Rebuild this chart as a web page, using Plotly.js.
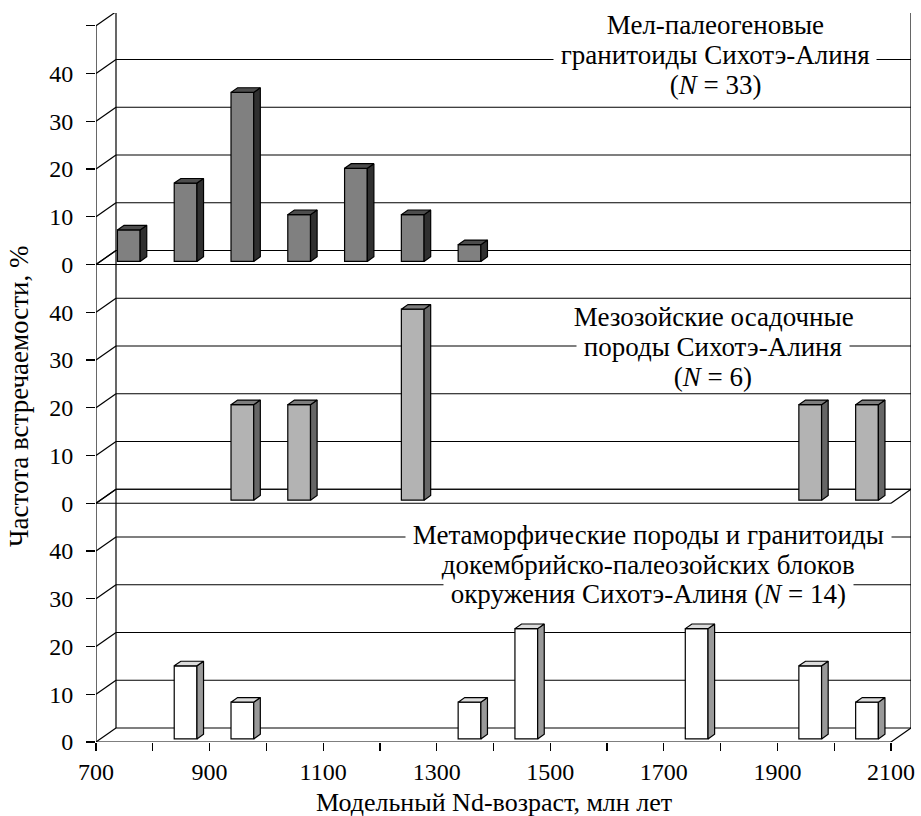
<!DOCTYPE html>
<html>
<head>
<meta charset="utf-8">
<script src="https://cdn.plot.ly/plotly-3.0.1.min.js"></script>
<style>html,body{margin:0;padding:0;background:#fff;}#chart{width:921px;height:816px;}</style>
</head>
<body>
<div id="chart"></div>
<script>
// ---------------- DATA ----------------
// Bin centres (model Nd age, Ma) and frequencies (%)
const granitoidAge  = [750, 850, 950, 1050, 1150, 1250, 1350];
const granitoidFreq = [6.6, 16.4, 35.4, 9.8, 19.5, 9.8, 3.5];

const sedimentAge  = [950, 1050, 1250, 1950, 2050];
const sedimentFreq = [20, 20, 40, 20, 20];

const basementAge  = [850, 950, 1350, 1450, 1750, 1950, 2050];
const basementFreq = [15.3, 7.7, 7.7, 23.1, 23.1, 15.3, 7.7];

const xTickVals = [700, 800, 900, 1000, 1100, 1200, 1300, 1400, 1500, 1600, 1700, 1800, 1900, 2000, 2100];
const xTickText = ['700', '', '900', '', '1100', '', '1300', '', '1500', '', '1700', '', '1900', '', '2100'];
const yTickVals = [0, 10, 20, 30, 40, 50];
const yTickText = ['0', '10', '20', '30', '40', ''];

const granitoidLabel = ['Мел-палеогеновые', 'гранитоиды Сихотэ-Алиня', '(<i>N</i> = 33)'];
const sedimentLabel  = ['Мезозойские осадочные', 'породы Сихотэ-Алиня', '(<i>N</i> = 6)'];
const basementLabel  = ['Метаморфические породы и гранитоиды', 'докембрийско-палеозойских блоков', 'окружения Сихотэ-Алиня (<i>N</i> = 14)'];

const xTitle = 'Модельный Nd-возраст, млн лет';
const yTitle = 'Частота встречаемости, %';

// ---------------- GEOMETRY / STYLE ----------------
const W = 921, H = 816, ML = 96, MR = 10, MT = 13, MB = 74;
const PW = W - ML - MR, PH = H - MT - MB;
const DX = 20, DY = 14;            // depth of the pseudo-3D box, px
const X0 = 700, X1 = 2100, YTOP = 50;
const XPX = (PW - DX) / (X1 - X0); // px per x unit
const YPX = 4.775;                 // px per y unit
const bx = DX / XPX;
const F0 = 0.22, F1 = 0.55;        // bar depth position (fraction of depth)
const BAR_W = 40;
const FONT = 'Liberation Serif';
const FS_TICK = 24;
const FS_TEXT = 27;
const FS_XTITLE = 26;
const LW = 1.2;

const panels = [
  {age: basementAge,  freq: basementFreq,  ax: 'y',  axKey: 'yaxis',  k: 0,
   front: '#ffffff', side: '#999999', top: '#dcdcdc', label: basementLabel,
   lx: 648, ly: [535, 565, 594], bg: [true, false, true]},
  {age: sedimentAge,  freq: sedimentFreq,  ax: 'y2', axKey: 'yaxis2', k: 1,
   front: '#b3b3b3', side: '#666666', top: '#7d7d7d', label: sedimentLabel,
   lx: 713, ly: [316.7, 346.7, 376.7], bg: [false, true, false]},
  {age: granitoidAge, freq: granitoidFreq, ax: 'y3', axKey: 'yaxis3', k: 2,
   front: '#808080', side: '#303030', top: '#4d4d4d', label: granitoidLabel,
   lx: 715, ly: [25, 55, 85], bg: [false, true, false]}
];

const px2paperX = px => (px - ML) / PW;
const py2paperY = py => (H - MB - py) / PH;

const traces = [];
const shapes = [];
const bgNotes = [];
const plainNotes = [];
const layout = {
  width: W, height: H, margin: {l: ML, r: MR, t: MT, b: MB},
  paper_bgcolor: '#fff', plot_bgcolor: 'rgba(0,0,0,0)',
  showlegend: false,
  font: {family: FONT, size: FS_TICK, color: '#000'},
  xaxis: {
    range: [X0, X0 + PW / XPX], tickmode: 'array', tickvals: xTickVals, ticktext: xTickText,
    ticks: 'outside', ticklen: 8, tickwidth: LW, tickcolor: '#000',
    showgrid: false, zeroline: false, showline: false, fixedrange: true,
    tickfont: {family: FONT, size: FS_TICK, color: '#000'}, ticklabelstandoff: 0
  }
};

panels.forEach(p => {
  const zpx = p.k * YTOP * YPX;               // panel zero, px above plot bottom
  const by = DY / YPX;
  const yax = {
    range: [-zpx / YPX, (PH - zpx) / YPX], tickmode: 'array', tickvals: yTickVals, ticktext: yTickText,
    ticks: 'outside', ticklen: 9, tickwidth: LW, tickcolor: '#000',
    showgrid: false, zeroline: false, showline: false, fixedrange: true,
    tickfont: {family: FONT, size: FS_TICK, color: '#000'}, ticklabelstandoff: 8, anchor: 'x'
  };
  if (p.k > 0) { yax.overlaying = 'y'; yax.side = 'left'; }
  layout[p.axKey] = yax;

  if (p.k > 0) {
    layout['xaxis' + (p.k + 1)] = {
      range: [X0, X0 + PW / XPX], overlaying: 'x', anchor: 'free', position: zpx / PH,
      tickmode: 'array', tickvals: xTickVals, showticklabels: false,
      ticks: 'outside', ticklen: 8, tickwidth: LW, tickcolor: '#000',
      showgrid: false, zeroline: false, showline: false, fixedrange: true
    };
  }

  const line = (x0, y0, x1, y1) => shapes.push({
    type: 'line', xref: 'x', yref: p.ax, x0, y0, x1, y1, layer: 'below',
    line: {color: '#000', width: LW}
  });
  // back-wall gridlines and left-wall diagonals
  yTickVals.forEach(v => {
    line(X0 + bx, v + by, X1 + bx, v + by);
    line(X0, v, X0 + bx, v + by);
  });
  // floor front edge & right diagonal
  if (p.k === 2) line(X0, 0, X1 + bx, 0);
  else { line(X0, 0, X1, 0); line(X1, 0, X1 + bx, by); }
  // back-wall verticals and front y-axis line
  line(X0 + bx, by, X0 + bx, YTOP + by);
  line(X1 + bx, by, X1 + bx, YTOP + by);
  line(X0, 0, X0, YTOP);

  // bars: front faces
  const base = F0 * DY / YPX;
  const off = -BAR_W / 2 + F0 * DX / XPX;
  traces.push({
    type: 'bar', x: p.age, y: p.freq, base: base, width: BAR_W, offset: off,
    xaxis: 'x', yaxis: p.ax,
    marker: {color: p.front, line: {color: '#000', width: LW}}, hoverinfo: 'skip'
  });
  // side and top faces
  const ddx = (F1 - F0) * DX / XPX, ddy = (F1 - F0) * DY / YPX;
  const sx = [], sy = [], tx = [], ty = [];
  p.age.forEach((a, i) => {
    const xl = a + off, xr = xl + BAR_W, b = base, t = base + p.freq[i];
    sx.push(xr, xr + ddx, xr + ddx, xr, xr, null);
    sy.push(b, b + ddy, t + ddy, t, b, null);
    tx.push(xl, xl + ddx, xr + ddx, xr, xl, null);
    ty.push(t, t + ddy, t + ddy, t, t, null);
  });
  traces.push({type: 'scatter', mode: 'lines', x: sx, y: sy, xaxis: 'x', yaxis: p.ax,
    fill: 'toself', fillcolor: p.side, line: {color: '#000', width: LW}, hoverinfo: 'skip'});
  traces.push({type: 'scatter', mode: 'lines', x: tx, y: ty, xaxis: 'x', yaxis: p.ax,
    fill: 'toself', fillcolor: p.top, line: {color: '#000', width: LW}, hoverinfo: 'skip'});

  // panel labels (lines crossing a gridline get a white background)
  p.label.forEach((txt, i) => {
    const note = {
      xref: 'paper', yref: 'paper', x: px2paperX(p.lx), y: py2paperY(p.ly[i]),
      xanchor: 'center', yanchor: 'middle', showarrow: false,
      text: '\u00a0' + txt + '\u00a0', bgcolor: p.bg[i] ? '#ffffff' : 'rgba(0,0,0,0)', borderpad: 0,
      font: {family: FONT, size: FS_TEXT, color: '#000'}
    };
    (p.bg[i] ? bgNotes : plainNotes).push(note);
  });
});

plainNotes.push({
  xref: 'paper', yref: 'paper', x: px2paperX(494), y: py2paperY(802),
  xanchor: 'center', yanchor: 'middle', showarrow: false, text: xTitle,
  font: {family: FONT, size: FS_XTITLE, color: '#000'}
});
plainNotes.push({
  xref: 'paper', yref: 'paper', x: px2paperX(19), y: py2paperY(396),
  xanchor: 'center', yanchor: 'middle', showarrow: false, text: yTitle, textangle: -90,
  font: {family: FONT, size: FS_TEXT, color: '#000'}
});

layout.shapes = shapes;
layout.annotations = bgNotes.concat(plainNotes);

Plotly.newPlot('chart', traces, layout, {staticPlot: true, displayModeBar: false});
</script>
</body>
</html>
